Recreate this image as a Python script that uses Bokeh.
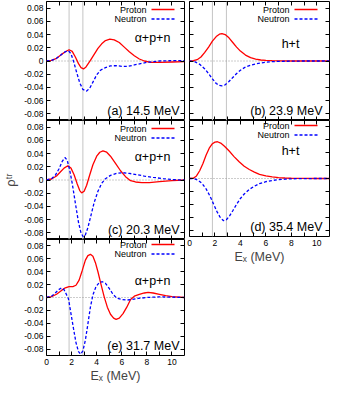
from bokeh.plotting import figure
from bokeh.models import (Range1d, LinearAxis, FixedTicker, Span, Label, Arrow,
                          CustomJSTickFormatter)
from bokeh.layouts import row, column
from bokeh.embed import file_html
from bokeh.resources import INLINE

FONT = "Liberation Sans"

# ---------------- data ----------------
x_ticks = [0, 2, 4, 6, 8, 10]
x_minor_ticks = [1, 3, 5, 7, 9]
y_ticks = [-0.08, -0.06, -0.04, -0.02, 0, 0.02, 0.04, 0.06, 0.08]
y_tick_labels = ["-0.08", "-0.06", "-0.04", "-0.02", "0", "0.02", "0.04", "0.06", "0.08"]
thresholds = [1.8, 2.9]

panel_tags = ["(a) 14.5 MeV", "(b) 23.9 MeV", "(c) 20.3 MeV", "(d) 35.4 MeV", "(e) 31.7 MeV"]
channels = ["α+p+n", "h+t", "α+p+n", "h+t", "α+p+n"]
series_names = ["Proton", "Neutron"]

# (a) 14.5 MeV
ap_E = [0, 0.4, 0.8, 1.2, 1.5, 1.8, 2.05, 2.3, 2.55, 2.75, 2.95, 3.15, 3.5, 3.8, 4.1,
        4.4, 4.7, 5.05, 5.4, 5.8, 6.2, 6.6, 7.0, 7.4, 7.8, 8.3, 9.0, 10.0, 11.0]
ap = [0, 0.0008, 0.004, 0.010, 0.014, 0.017, 0.0145, 0.006, -0.004, -0.010, -0.012, -0.009,
      0.001, 0.010, 0.019, 0.026, 0.031, 0.033, 0.032, 0.028, 0.021, 0.014, 0.008, 0.003,
      0.000, -0.002, -0.002, -0.0015, -0.001]
an_E = [0, 0.4, 0.8, 1.2, 1.5, 1.75, 1.95, 2.15, 2.4, 2.65, 2.9, 3.2, 3.45, 3.7, 4.0,
        4.3, 4.7, 5.1, 5.5, 6.0, 6.5, 7.0, 7.5, 8.0, 8.5, 9.0, 10.0, 11.0]
an = [0, 0.0008, 0.004, 0.010, 0.014, 0.0155, 0.011, 0.000, -0.017, -0.033, -0.043, -0.0455,
      -0.041, -0.032, -0.021, -0.014, -0.010, -0.0075, -0.007, -0.008, -0.008, -0.006,
      -0.004, -0.002, -0.001, 0.000, 0.0005, 0.0005]

# (b) 23.9 MeV
bp_E = [0, 0.3, 0.6, 0.9, 1.2, 1.5, 1.8, 2.1, 2.35, 2.55, 2.8, 3.1, 3.4, 3.7, 4.0,
        4.4, 4.8, 5.2, 5.6, 6.0, 6.5, 7.0, 8.0, 9.0, 10.0, 11.0]
bp = [0, 0.0005, 0.002, 0.006, 0.013, 0.021, 0.030, 0.037, 0.0405, 0.0415, 0.040, 0.035,
      0.028, 0.021, 0.015, 0.009, 0.005, 0.003, 0.0015, 0.001, 0.0005, 0.0002, 0, 0, 0, 0]
bn_E = [0, 0.4, 0.8, 1.2, 1.5, 1.8, 2.1, 2.35, 2.55, 2.8, 3.1, 3.4, 3.7, 4.0, 4.4,
        4.8, 5.2, 5.6, 6.0, 6.5, 7.0, 8.0, 9.0, 10.0, 11.0]
bn = [0, -0.001, -0.005, -0.012, -0.019, -0.027, -0.034, -0.037, -0.0375, -0.036, -0.031,
      -0.025, -0.019, -0.014, -0.009, -0.0065, -0.0045, -0.003, -0.002, -0.001, -0.0006,
      -0.0002, 0, 0, 0]

# (c) 20.3 MeV
cp_E = [0, 0.4, 0.8, 1.1, 1.4, 1.7, 1.95, 2.2, 2.45, 2.65, 2.8, 3.0, 3.2, 3.45, 3.7,
        4.0, 4.25, 4.5, 4.8, 5.1, 5.5, 5.9, 6.3, 6.7, 7.1, 7.6, 8.2, 9.0, 10.0, 11.0]
cp = [0, 0.0015, 0.006, 0.012, 0.018, 0.0215, 0.018, 0.008, -0.006, -0.016, -0.0195, -0.017,
      -0.008, 0.008, 0.023, 0.036, 0.042, 0.044, 0.042, 0.036, 0.025, 0.014, 0.005, -0.001,
      -0.003, -0.004, -0.004, -0.0025, -0.001, 0]
cn_E = [0, 0.4, 0.7, 1.0, 1.25, 1.47, 1.65, 1.85, 2.05, 2.3, 2.55, 2.75, 2.93, 3.1, 3.3,
        3.55, 3.8, 4.1, 4.4, 4.7, 5.1, 5.6, 6.1, 6.6, 7.2, 7.8, 8.5, 9.3, 10.2, 11.0]
cn = [0, 0.002, 0.007, 0.017, 0.028, 0.034, 0.030, 0.015, -0.005, -0.035, -0.064, -0.080,
      -0.086, -0.083, -0.072, -0.053, -0.034, -0.017, -0.005, 0.002, 0.007, 0.010, 0.011,
      0.010, 0.008, 0.006, 0.004, 0.002, 0.0005, 0]

# (d) 35.4 MeV
dp_E = [0, 0.3, 0.55, 0.8, 1.05, 1.3, 1.55, 1.8, 2.0, 2.2, 2.45, 2.75, 3.1, 3.5, 3.9,
        4.3, 4.7, 5.1, 5.5, 6.0, 6.5, 7.0, 7.5, 8.0, 9.0, 10.0, 11.0]
dp = [0, 0.0005, 0.004, 0.012, 0.023, 0.036, 0.047, 0.054, 0.0565, 0.057, 0.055, 0.050,
      0.043, 0.034, 0.026, 0.019, 0.014, 0.010, 0.0065, 0.004, 0.0025, 0.0015, 0.0008,
      0.0004, 0.0001, 0, 0]
dn_E = [0, 0.4, 0.7, 1.0, 1.3, 1.6, 1.9, 2.15, 2.4, 2.67, 2.9, 3.15, 3.4, 3.7, 4.0,
        4.3, 4.7, 5.1, 5.5, 6.0, 6.5, 7.0, 7.5, 8.0, 9.0, 10.0, 11.0]
dn = [0, -0.0005, -0.003, -0.008, -0.016, -0.027, -0.040, -0.051, -0.060, -0.0655, -0.064,
      -0.058, -0.050, -0.040, -0.031, -0.024, -0.017, -0.012, -0.008, -0.005, -0.003,
      -0.0018, -0.001, -0.0005, -0.0001, 0, 0]

# (e) 31.7 MeV
ep_E = [0, 0.4, 0.8, 1.2, 1.5, 1.8, 2.1, 2.35, 2.6, 2.85, 3.1, 3.3, 3.5, 3.7, 3.9,
        4.1, 4.35, 4.6, 4.85, 5.1, 5.35, 5.55, 5.8, 6.1, 6.4, 6.7, 7.0, 7.4, 7.8, 8.1,
        8.5, 9.0, 9.5, 10.0, 11.0]
ep = [0, 0.0015, 0.005, 0.011, 0.015, 0.017, 0.017, 0.019, 0.027, 0.042, 0.058, 0.065,
      0.067, 0.064, 0.054, 0.040, 0.020, 0.001, -0.015, -0.026, -0.032, -0.034, -0.032,
      -0.025, -0.015, -0.003, 0.002, 0.005, 0.007, 0.0078, 0.007, 0.005, 0.003, 0.0015, 0]
en_E = [0, 0.4, 0.7, 0.95, 1.2, 1.4, 1.58, 1.75, 1.95, 2.15, 2.35, 2.55, 2.72, 2.9, 3.1,
        3.3, 3.5, 3.7, 3.95, 4.2, 4.45, 4.7, 5.0, 5.3, 5.6, 6.0, 6.4, 6.8, 7.3, 8.0,
        9.0, 10.0, 11.0]
en = [0, 0.002, 0.007, 0.012, 0.015, 0.012, 0.005, -0.002, -0.025, -0.048, -0.070, -0.084,
      -0.088, -0.083, -0.066, -0.041, -0.015, 0.004, 0.017, 0.023, 0.0245, 0.022, 0.014,
      0.005, -0.001, -0.003, -0.004, -0.003, -0.0015, 0.0, 0.001, 0.0005, 0]

panel_data = [(ap_E, ap, an_E, an), (bp_E, bp, bn_E, bn), (cp_E, cp, cn_E, cn),
              (dp_E, dp, dn_E, dn), (ep_E, ep, en_E, en)]

# ---------------- styling ----------------
RED = "#ff0000"
BLUE = "#0000ff"
FRAME_W = 140
FRAME_H = 119
# channel-label baseline offset from frame top, per panel
chan_top = [36, 42, 36, 33, 44]
chan_x = [106, 101, 106, 101, 106]


def style_axis(ax, ticker, labels=False, overrides=None):
    ax.ticker = ticker
    ax.axis_line_color = None
    ax.major_tick_in = 4
    ax.major_tick_out = 0
    ax.minor_tick_in = 4
    ax.minor_tick_out = 0
    ax.major_tick_line_color = "black"
    ax.minor_tick_line_color = "black"
    if labels:
        ax.major_label_text_font = FONT
        ax.major_label_text_font_size = "8.5px"
        ax.major_label_text_color = "black"
        ax.major_label_standoff = 3
        if overrides:
            ax.major_label_overrides = overrides
    else:
        ax.formatter = CustomJSTickFormatter(code="return ''")
        ax.major_label_text_font_size = "0px"
        ax.major_label_standoff = 0


def make_panel(i, left, top_row, bottom_labels, ylabel=False):
    width = (44 + FRAME_W + 2) if left else (3 + FRAME_W + 1)
    mb_top = 1 if top_row else 0
    mb_bottom = 27 if bottom_labels else 0
    height = mb_top + FRAME_H + mb_bottom
    p = figure(width=width, height=height, x_range=Range1d(0, 11), y_range=Range1d(-0.09, 0.09),
               output_backend="svg", toolbar_location=None, tools="",
               x_axis_location=None, y_axis_location=None,
               min_border_left=44 if left else 3, min_border_right=2 if left else 1,
               min_border_top=mb_top, min_border_bottom=mb_bottom)
    p.outline_line_color = "black"
    p.outline_line_width = 1
    p.background_fill_color = "white"
    p.border_fill_color = "white"
    p.xgrid.visible = False if p.xgrid else None
    p.ygrid.visible = False if p.ygrid else None

    xt = FixedTicker(ticks=x_ticks, minor_ticks=x_minor_ticks)
    yt = FixedTicker(ticks=y_ticks, minor_ticks=[])

    bx = LinearAxis()
    style_axis(bx, xt, labels=bottom_labels)
    if bottom_labels:
        bx.axis_label = "Eₓ (MeV)"
        bx.axis_label_text_font = FONT
        bx.axis_label_text_font_size = "12.5px"
        bx.axis_label_text_font_style = "normal"
        bx.axis_label_standoff = 1
    p.add_layout(bx, "below")
    tx = LinearAxis()
    style_axis(tx, xt)
    p.add_layout(tx, "above")

    ly = LinearAxis()
    style_axis(ly, yt, labels=left, overrides=dict(zip(y_ticks, y_tick_labels)))
    if ylabel:
        ly.axis_label = "ρᵗʳ"
        ly.axis_label_text_font = FONT
        ly.axis_label_text_font_size = "13px"
        ly.axis_label_text_font_style = "normal"
        ly.axis_label_standoff = 3
    p.add_layout(ly, "left")
    ry = LinearAxis()
    style_axis(ry, yt)
    p.add_layout(ry, "right")

    for t in thresholds:
        p.add_layout(Span(location=t, dimension="height", line_color="#c4c4c4",
                          line_width=1, level="underlay"))
    p.add_layout(Span(location=0, dimension="width", line_color="#999999",
                      line_width=1, line_dash="1 2", level="underlay"))

    pE, pv, nE, nv = panel_data[i]
    p.line(pE, pv, line_color=RED, line_width=1.3)
    p.line(nE, nv, line_color=BLUE, line_width=1.3, line_dash="3 2")

    # legend (gnuplot style: text then sample)
    for k, (name, col, dash) in enumerate(zip(series_names, [RED, BLUE], ["solid", "3 2"])):
        yy = FRAME_H - 8 - 9.5 * k
        p.add_layout(Label(x=100, y=yy, x_units="screen", y_units="screen", text=name,
                           text_font=FONT, text_font_size="9px", text_align="right",
                           text_baseline="middle", text_color="black"))
        p.add_layout(Arrow(x_start=105, y_start=yy, x_end=128, y_end=yy,
                           start_units="screen", end_units="screen", start=None, end=None,
                           line_color=col, line_width=1.3, line_dash=dash))

    p.add_layout(Label(x=chan_x[i], y=FRAME_H - chan_top[i], x_units="screen", y_units="screen",
                       text=channels[i], text_font=FONT, text_font_size="12.5px",
                       text_align="center", text_baseline="alphabetic", text_color="black"))
    p.add_layout(Label(x=133, y=9.5, x_units="screen", y_units="screen",
                       text=panel_tags[i], text_font=FONT, text_font_size="12.5px",
                       text_align="right", text_baseline="alphabetic", text_color="black"))
    return p


pa = make_panel(0, True, True, False)
pc = make_panel(2, True, False, False, ylabel=True)
pe = make_panel(4, True, False, True)
pb = make_panel(1, False, True, False)
pd = make_panel(3, False, False, True)

layout = row(column(pa, pc, pe), column(pb, pd))
open("out.html", "w").write(file_html(layout, INLINE))
